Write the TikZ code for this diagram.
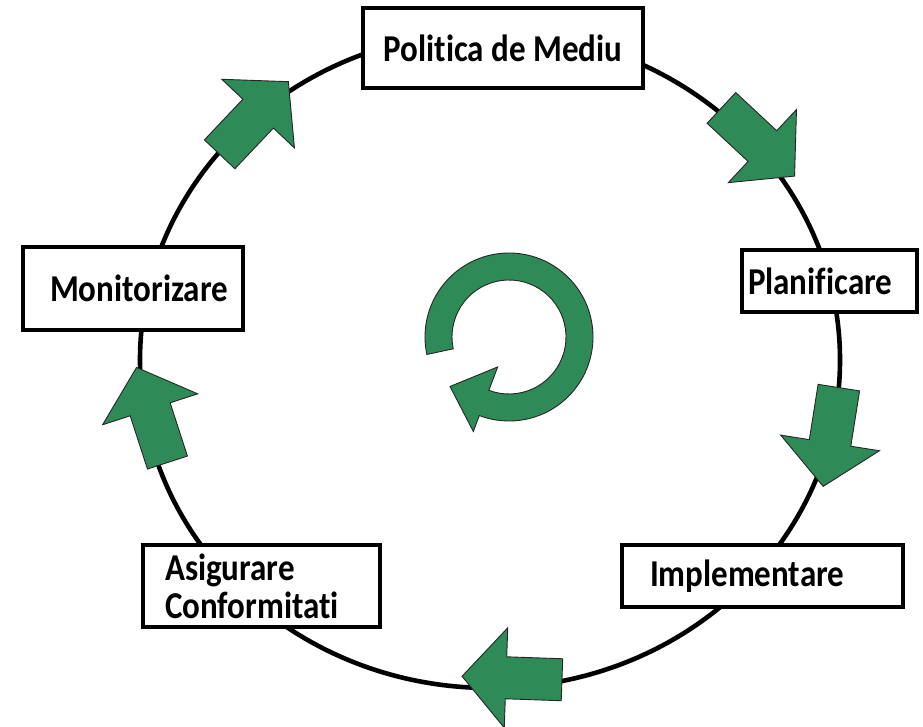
\documentclass[tikz,border=0pt]{standalone}
\usepackage{fontspec}
\setmainfont{Carlito}[Ligatures=NoCommon]
\usepackage{tikz}
\definecolor{cyclegreen}{RGB}{46,139,87}
\newcommand{\stagetext}[1]{\scalebox{1}[1.15]{#1}}
\tikzset{
	stage/.style={draw=black, line width=3.6pt, fill=white, inner ysep=0pt,
		font=\bfseries\fontsize{33}{38}\selectfont},
	flowarrow/.style={fill=cyclegreen, draw=black!85, line width=0.9pt},
	loopline/.style={draw=black, line width=4.6pt}
}

\begin{document}
\begin{tikzpicture}[x=1pt, y=1pt]
	\useasboundingbox (0,0) rectangle (923,726);
	\draw[loopline] (490,366) ellipse [x radius=350, y radius=328];
	\foreach \px/\py/\ang in {254/608/46.6, 758/584/-43, 831/289/-99, 512/48/178, 152/311/108}
		\draw[flowarrow, shift={(\px,\py)}, rotate=\ang] (-50,-21) -- (6,-21) -- (6,-50) -- (50,0) -- (6,50) -- (6,21) -- (-50,21) -- cycle;
	\begin{scope}[shift={(509,389)}]
		\draw[flowarrow] (192:84) arc[start angle=192, end angle=-110.7, radius=84] -- (-110.7:101) -- (-140:77) -- (-110.7:32) -- (-110.7:57) arc[start angle=-110.7, end angle=192, radius=57] -- cycle;
	\end{scope}
	\node[stage, minimum width=280pt, minimum height=80pt] (pol) at (503,678) {\stagetext{Politica de Mediu}};
	\node[stage, text width=163pt, inner xsep=6pt, align=left, minimum height=62pt] (plan) at (829.5,445) {\stagetext{Planificare}};
	\node[stage, text width=225pt, inner xsep=28pt, align=left, minimum height=62pt] (impl) at (762.5,150) {\stagetext{Implementare}};
	\node[stage, text width=193pt, inner xsep=22pt, align=left, minimum height=82pt] (asig) at (261.5,140) {\stagetext{Asigurare}\\\stagetext{Conformitati}};
	\node[stage, text width=166pt, inner xsep=27pt, align=left, minimum height=83pt] (mon) at (133,437.5) {\stagetext{Monitorizare}};
\end{tikzpicture}
\end{document}
